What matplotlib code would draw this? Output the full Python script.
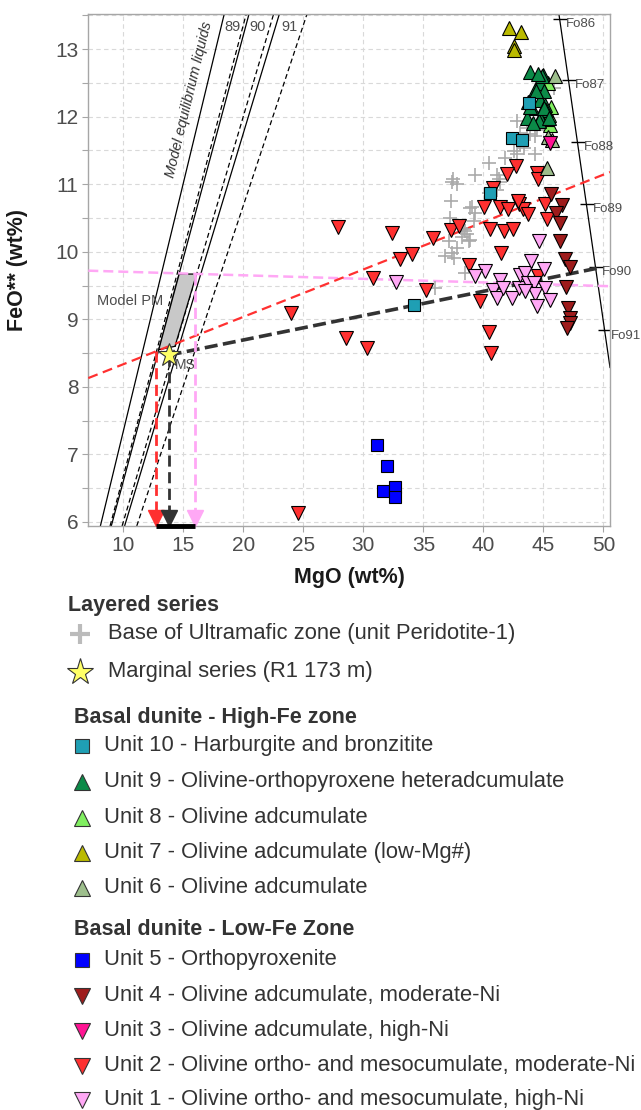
import numpy as np
import matplotlib
matplotlib.use("Agg")
import matplotlib.pyplot as plt
from matplotlib.patches import Polygon

plt.rcParams["font.family"] = ["Liberation Sans", "DejaVu Sans"]

# ---------------- data ----------------
# Base of Ultramafic zone (unit Peridotite-1)
cross_mgo = [37.47, 37.81, 39.33, 37.31, 39.06, 37.25, 38.5, 38.22, 37.81, 37.53, 38.78,
             38.5, 36.0, 40.44, 38.92, 39.33, 41.28, 41.14, 38.64, 37.11, 36.83, 39.19,
             42.81, 43.64, 43.08, 43.92, 44.33, 44.47, 43.08, 42.81, 44.33, 41.83, 41.14,
             41.42, 37.39, 40.44, 42.53, 45.86, 43.36, 38.92, 37.39, 38.36]
cross_feo = [11.07, 11.0, 11.14, 10.75, 10.67, 10.5, 10.3, 10.22, 10.06, 9.91, 10.16,
             9.69, 9.47, 11.32, 10.65, 10.58, 11.07, 10.92, 10.26, 10.16, 9.93, 10.45,
             11.93, 11.83, 11.76, 11.74, 11.71, 11.81, 11.59, 11.44, 11.44, 11.39, 11.14,
             11.04, 11.04, 10.87, 11.49, 12.42, 11.54, 10.18, 9.98, 10.33]

# Marginal series
ms_mgo = [13.78]
ms_feo = [8.47]

u10_mgo = [43.78, 42.39, 43.22, 40.53, 34.19]
u10_feo = [12.2, 11.68, 11.65, 10.87, 9.21]

u9_mgo = [43.92, 44.94, 44.75, 44.33, 45.03, 43.73, 44.75, 45.17, 44.06, 45.25,
          43.64, 44.75, 44.61, 44.42, 43.92, 45.03, 45.44, 44.17, 44.9, 44.58]
u9_feo = [12.66, 12.61, 12.5, 12.39, 12.38, 12.22, 12.25, 12.18, 12.13, 12.1,
          11.98, 11.98, 11.93, 12.38, 12.15, 12.13, 11.98, 11.9, 12.6, 12.63]

u8_mgo = [45.4, 45.44, 45.58, 45.31, 45.67]
u8_feo = [12.5, 12.03, 11.88, 11.96, 12.14]

u7_mgo = [42.11, 43.17, 42.53, 42.58]
u7_feo = [13.31, 13.26, 13.04, 12.99]

u6_mgo = [46.0, 45.36, 45.73, 45.31]
u6_feo = [12.6, 11.7, 11.66, 11.24]

u5_mgo = [31.14, 31.98, 31.64, 32.67, 32.67]
u5_feo = [7.14, 6.83, 6.46, 6.52, 6.37]

u4_mgo = [45.67, 46.56, 46.06, 46.36, 46.42, 46.78, 47.25, 46.92, 47.03, 47.25, 47.19, 46.97]
u4_feo = [10.85, 10.69, 10.58, 10.43, 10.16, 9.89, 9.77, 9.48, 9.17, 9.02, 8.95, 8.87]

u3_mgo = [45.58]
u3_feo = [11.61]

u2_mgo = [27.92, 32.42, 35.83, 37.33, 38.0, 34.08, 33.08, 30.83, 35.25, 24.0, 28.58, 30.33,
          38.83, 40.08, 41.42, 42.08, 43.0, 43.33, 43.75, 45.17, 45.33, 40.58, 41.75, 42.5,
          41.5, 39.75, 44.58, 40.5, 40.67, 42.75, 42.0, 44.5, 44.58, 42.92, 40.83, 24.58]
u2_feo = [10.36, 10.28, 10.2, 10.32, 10.38, 9.96, 9.89, 9.61, 9.43, 9.09, 8.72, 8.57,
          9.8, 10.67, 10.67, 10.64, 10.7, 10.64, 10.56, 10.7, 10.48, 10.33, 10.3, 10.33,
          9.98, 9.27, 9.64, 8.81, 8.5, 11.27, 11.15, 11.16, 11.07, 10.75, 10.94, 6.13]

u1_mgo = [44.61, 40.17, 39.33, 41.36, 40.81, 41.14, 42.39, 42.94, 43.08, 43.5, 44.0,
          45.03, 43.69, 44.19, 44.33, 45.17, 45.58, 44.47, 43.5, 32.75, 41.67]
u1_feo = [10.16, 9.72, 9.64, 9.58, 9.44, 9.32, 9.32, 9.47, 9.66, 9.69, 9.86,
          9.74, 9.54, 9.54, 9.37, 9.47, 9.29, 9.2, 9.42, 9.55, 9.46]

# olivine compositions (Fo tick marks)
fo_labels = ["Fo86", "Fo87", "Fo88", "Fo89", "Fo90", "Fo91"]
fo_mgo = [46.35, 47.1, 47.85, 48.6, 49.35, 50.1]
fo_feo = [13.45, 12.55, 11.63, 10.71, 9.78, 8.84]

# model equilibrium liquids: FeO/MgO ratio of each line (Fo89, Fo90, Fo91)
liq_labels = ["89", "90", "91"]
liq_label_mgo = [19.12, 21.17, 23.83]
liq_solid_ratio = [0.7345, 0.6604, 0.5878]
liq_dashed_ratio = [0.668, 0.6003, 0.5343]

# Model PM field
pm_mgo = [12.95, 14.65, 16.1, 14.3]
pm_feo = [8.55, 9.67, 9.67, 8.6]

# trend lines
red_mgo, red_feo = [7.08, 50.55], [8.13, 11.18]
pink_mgo, pink_feo = [7.08, 50.55], [9.72, 9.49]
dark_mgo, dark_feo = [13.78, 49.87], [8.47, 9.77]

# projected MgO of the parental liquids (red, dark, pink)
proj_mgo = [12.73, 13.78, 15.98]
proj_feo = [8.53, 8.47, 9.67]
proj_colors = ["#FF3030", "#333333", "#FFA8F5"]

# ---------------- figure ----------------
fig = plt.figure(figsize=(6.41, 11.10), dpi=100)
W, H = 641, 1110
ax = fig.add_axes([88.3 / W, 1 - 526 / H, (610 - 88.3) / W, (526 - 14) / H])
ax.set_xlim(7.08, 50.55)
ax.set_ylim(5.94, 13.52)

ax.set_xticks([10, 15, 20, 25, 30, 35, 40, 45, 50])
ax.set_yticks(range(6, 14))
ax.set_yticks(np.arange(6.5, 13.6, 1.0), minor=True)
ax.set_axisbelow(True)
ax.grid(which="both", axis="y", color="#D9D9D9", lw=0.8, ls=(0, (4, 3)))
ax.grid(which="major", axis="x", color="#D9D9D9", lw=0.8, ls=(0, (4, 3)))
for s in ax.spines.values():
    s.set_color("#A6A6A6")
    s.set_linewidth(1.0)
ax.tick_params(which="both", length=4, width=0.8, color="#A6A6A6",
               labelsize=15, labelcolor="#4D4D4D", pad=3)

ax.set_xlabel("MgO (wt%)", fontsize=15.5, fontweight="bold", color="#1A1A1A")
ax.set_ylabel("FeO** (wt%)", fontsize=15.5, fontweight="bold", color="#1A1A1A")
ax.xaxis.set_label_coords(0.5, -(578 - 526) / 512)
ax.xaxis.label.set_va("center")
ax.yaxis.set_label_coords(-(88.3 - 18) / 521.7, 0.5)
ax.yaxis.label.set_va("center")

# equilibrium liquid lines
for r in liq_solid_ratio:
    ax.axline((0, 0), slope=r, color="black", lw=0.9, zorder=2)
for r in liq_dashed_ratio:
    ax.axline((0, 0), slope=r, color="black", lw=0.9, ls=(0, (4, 2.5)), zorder=2)
for lab, x in zip(liq_labels, liq_label_mgo):
    ax.text(x, 13.33, lab, fontsize=10.5, color="#4D4D4D", ha="center", va="center")
ax.text(15.48, 12.25, "Model equilibrium liquids", fontsize=10.5, style="italic",
        color="#333333", rotation=76.4, ha="center", va="center")

# olivine line with Fo ticks
ax.axline((fo_mgo[0], fo_feo[0]), (fo_mgo[-1], fo_feo[-1]), color="black", lw=0.9, zorder=2)
ax.plot(fo_mgo, fo_feo, ls="none", marker="_", ms=10, mew=1.0, color="black", zorder=2)
for lab, x, y in zip(fo_labels, fo_mgo, fo_feo):
    ax.annotate(lab, (x, y), xytext=(4.5, -4), textcoords="offset points", ha="left",
                va="center", fontsize=9.5, color="#4D4D4D", annotation_clip=False)

# Model PM
ax.add_patch(Polygon(list(zip(pm_mgo, pm_feo)), closed=True, fc="#C8C8C8", ec="black",
                     lw=0.9, zorder=3))
ax.text(10.6, 9.27, "Model PM", fontsize=10.5, color="#4D4D4D", ha="center", va="center")

# trend lines
ax.plot(pink_mgo, pink_feo, color="#FFA8F5", lw=1.8, ls=(0, (4, 2)), zorder=4)
ax.plot(red_mgo, red_feo, color="#FF3030", lw=1.6, ls=(0, (4.5, 2.5)), zorder=4)
ax.plot(dark_mgo, dark_feo, color="#333333", lw=2.6, ls=(0, (3.6, 1.5)), zorder=4)

# projections onto the MgO axis
for x, y, c in zip(proj_mgo, proj_feo, proj_colors):
    ax.plot([x, x], [y, 6.1], color=c, lw=2.0, ls=(0, (4, 2)), zorder=4)
    ax.plot([x], [6.06], marker="v", ms=11, color=c, mec=c, zorder=5, clip_on=False)
ax.plot([proj_mgo[0], proj_mgo[-1]], [5.94, 5.94], color="black", lw=3.5,
        solid_capstyle="butt", clip_on=False, zorder=6)

# data points
edge = dict(mec="black", mew=0.8, ls="none")
ax.plot(cross_mgo, cross_feo, ls="none", marker="+", ms=10, mew=1.2, color="#AAAAAA", zorder=5)
ax.plot(u2_mgo, u2_feo, marker="v", ms=10, mfc="#FF3030", zorder=6, **edge)
ax.plot(u1_mgo, u1_feo, marker="v", ms=10, mfc="#FFA8F5", zorder=6, **edge)
ax.plot(u4_mgo, u4_feo, marker="v", ms=10, mfc="#9E1C1C", zorder=6, **edge)
ax.plot(u8_mgo, u8_feo, marker="^", ms=10, mfc="#80EE60", zorder=6, **edge)
ax.plot(u9_mgo, u9_feo, marker="^", ms=10, mfc="#0B8A48", zorder=6, **edge)
ax.plot(u6_mgo, u6_feo, marker="^", ms=10, mfc="#9DBE8C", zorder=6, **edge)
ax.plot(u7_mgo, u7_feo, marker="^", ms=10, mfc="#BABA00", zorder=6, **edge)
ax.plot(u3_mgo, u3_feo, marker="v", ms=10, mfc="#FF1493", zorder=6, **edge)
ax.plot(u10_mgo, u10_feo, marker="s", ms=9, mfc="#1F9FB4", zorder=7, **edge)
ax.plot(u5_mgo, u5_feo, marker="s", ms=9, mfc="#0000FF", zorder=7, **edge)
ax.plot(ms_mgo, ms_feo, marker="*", ms=17, mfc="#FFFF66", mec="#333333", mew=0.8,
        ls="none", zorder=8)
ax.text(14.3, 8.33, "MS", fontsize=10, color="#4D4D4D", ha="left", va="center")

# ---------------- legend (drawn below the panel) ----------------
leg = fig.add_axes([0, 0, 1, 0.46])
leg.set_xlim(0, W)
leg.set_ylim(H, H - 0.46 * H)
leg.axis("off")

head_kw = dict(fontsize=15.5, fontweight="bold", color="#333333", va="center")
lab_kw = dict(fontsize=15.8, color="#333333", va="center")

leg.text(68, 606, "Layered series", **head_kw)
leg.plot(80, 634, marker="+", ms=15, mew=3, color="#BBBBBB")
leg.text(108, 634, "Base of Ultramafic zone (unit Peridotite-1)", **lab_kw)
leg.plot(80, 672, marker="*", ms=20, mfc="#FFFF66", mec="#333333", mew=0.8)
leg.text(108, 672, "Marginal series (R1 173 m)", **lab_kw)

high_labels = ["Unit 10 - Harburgite and bronzitite",
               "Unit 9 - Olivine-orthopyroxene heteradcumulate",
               "Unit 8 - Olivine adcumulate",
               "Unit 7 - Olivine adcumulate (low-Mg#)",
               "Unit 6 - Olivine adcumulate"]
high_markers = ["s", "^", "^", "^", "^"]
high_colors = ["#1F9FB4", "#0B8A48", "#80EE60", "#BABA00", "#9DBE8C"]
high_y = [746, 782, 818, 853, 888]

low_labels = ["Unit 5 - Orthopyroxenite",
              "Unit 4 - Olivine adcumulate, moderate-Ni",
              "Unit 3 - Olivine adcumulate, high-Ni",
              "Unit 2 - Olivine ortho- and mesocumulate, moderate-Ni",
              "Unit 1 - Olivine ortho- and mesocumulate, high-Ni"]
low_markers = ["s", "v", "v", "v", "v"]
low_colors = ["#0000FF", "#9E1C1C", "#FF1493", "#FF3030", "#FFA8F5"]
low_y = [960, 996, 1031, 1066, 1100]

leg.text(74, 718, "Basal dunite - High-Fe zone", **head_kw)
for lab, m, c, y in zip(high_labels, high_markers, high_colors, high_y):
    leg.plot(82, y, marker=m, ms=10 if m == "s" else 11, mfc=c, mec="#333333", mew=0.8)
    leg.text(104, y, lab, **lab_kw)

leg.text(74, 930, "Basal dunite - Low-Fe Zone", **head_kw)
for lab, m, c, y in zip(low_labels, low_markers, low_colors, low_y):
    leg.plot(82, y, marker=m, ms=10 if m == "s" else 11, mfc=c, mec="#333333", mew=0.8)
    leg.text(104, y, lab, **lab_kw)

fig.savefig("out.png", dpi=100)
